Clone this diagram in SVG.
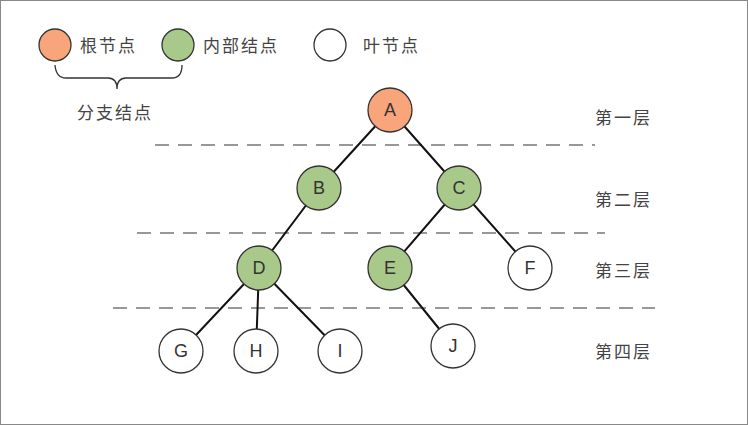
<svg xmlns="http://www.w3.org/2000/svg" width="748" height="425" viewBox="0 0 748 425">
<style>
.n{stroke:#333;stroke-width:1.3}
.r{fill:#F9A57C}.g{fill:#A9C98A}.w{fill:#fff}
.t{font-family:"Liberation Sans",Arial,sans-serif;font-size:18px;fill:#333;text-anchor:middle}
.c{font-family:"Noto Sans CJK SC","Liberation Sans",sans-serif;font-size:17px;fill:#444;letter-spacing:2px}
.d{stroke:#777;stroke-width:1.5;stroke-dasharray:14,9;fill:none}
.e{stroke:#111;stroke-width:2}
</style>
<rect x="0.5" y="0.5" width="747" height="424" fill="#fff" stroke="#888"/>
<g id="legend">
<circle class="n r" cx="55" cy="45" r="16"/><text class="c" x="80" y="52">根节点</text>
<circle class="n g" cx="178" cy="45" r="16"/><text class="c" x="203" y="52">内部结点</text>
<circle class="n w" cx="330" cy="45" r="16"/><text class="c" x="363" y="52">叶节点</text>
<path d="M55,65 Q56,78 66,78 L108,78 Q117,78 117,89 Q117,78 126,78 L172,78 Q182,78 182,65" fill="none" stroke="#333" stroke-width="1.3"/>
<text class="c" x="77" y="119">分支结点</text>
</g>
<g id="layers">
<path class="d" d="M155,145H595M137,233H605M113,308H655"/>
<text class="c" x="595" y="124">第一层</text>
<text class="c" x="595" y="206">第二层</text>
<text class="c" x="595" y="277">第三层</text>
<text class="c" x="595" y="358">第四层</text>
</g>
<g id="connectors">
<path class="e" d="M390,110L319,188M390,110L459,188M319,188L259,268M459,188L390,268M459,188L530,268M259,268L181,351M259,268L256,351M259,268L340,351M390,268L453,346"/>
</g>
<g id="A"><circle class="n r" cx="390" cy="110" r="22"/><text class="t" x="390" y="116">A</text></g>
<g id="B"><circle class="n g" cx="319" cy="188" r="22"/><text class="t" x="319" y="194">B</text></g>
<g id="C"><circle class="n g" cx="459" cy="188" r="22"/><text class="t" x="459" y="194">C</text></g>
<g id="D"><circle class="n g" cx="259" cy="268" r="22"/><text class="t" x="259" y="274">D</text></g>
<g id="E"><circle class="n g" cx="390" cy="268" r="22"/><text class="t" x="390" y="274">E</text></g>
<g id="F"><circle class="n w" cx="530" cy="268" r="22"/><text class="t" x="530" y="274">F</text></g>
<g id="G"><circle class="n w" cx="181" cy="351" r="22"/><text class="t" x="181" y="357">G</text></g>
<g id="H"><circle class="n w" cx="256" cy="351" r="22"/><text class="t" x="256" y="357">H</text></g>
<g id="I"><circle class="n w" cx="340" cy="351" r="22"/><text class="t" x="340" y="357">I</text></g>
<g id="J"><circle class="n w" cx="453" cy="346" r="22"/><text class="t" x="453" y="352">J</text></g>
</svg>
